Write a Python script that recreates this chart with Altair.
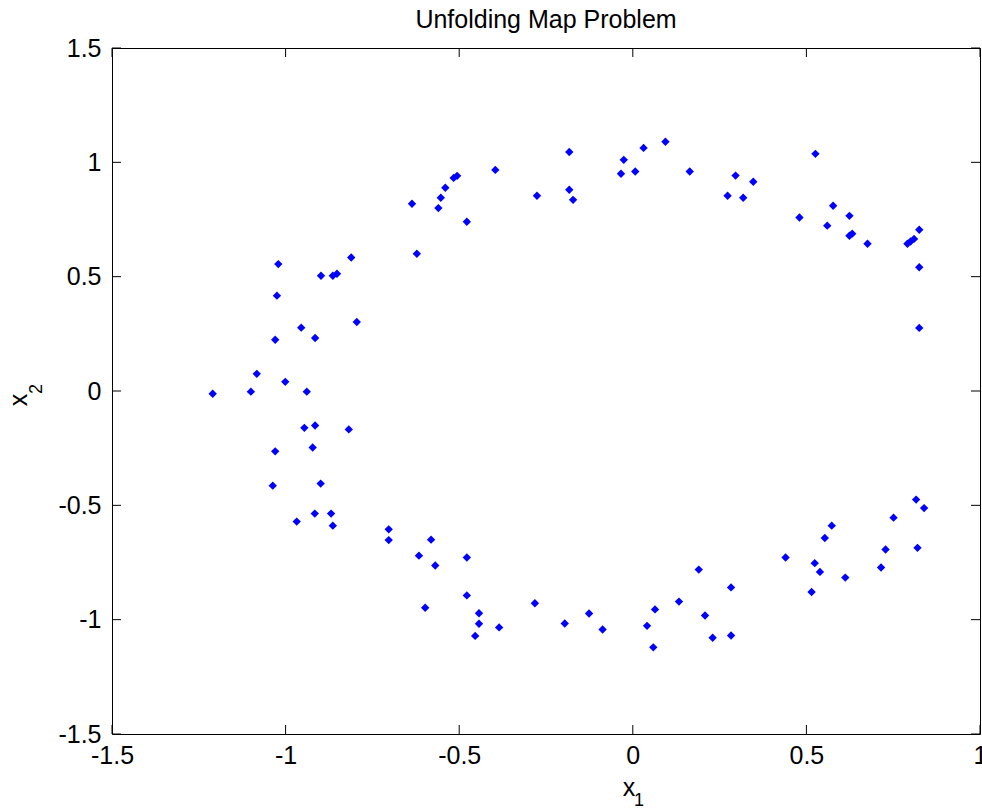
import altair as alt
import pandas as pd

# ---- data ----
x1 = [
    -0.636, -0.560, -0.553, -0.540, -0.516, -0.506, -0.478, -0.622, -0.811, -1.021,
    -0.898, -0.864, -0.852, -1.025, -0.795, -0.955, -1.030, -0.915, -1.083, -1.001,
    -1.210, -1.100, -0.939, -0.946, -0.915, -0.818, -1.030, -0.922, -1.037, -0.899,
    -0.968, -0.916, -0.869, -0.864, -0.703, -0.703, -0.581, -0.616, -0.569, -0.478,
    -0.478, -0.598, -0.443, -0.443, -0.454, -0.385, -0.282, -0.196, -0.126, -0.087,
    0.041, 0.064, 0.059, 0.133, 0.190, 0.283, 0.208, 0.230, 0.283, 0.440,
    0.524, 0.539, 0.515, 0.612, 0.553, 0.573, 0.715, 0.728, 0.751, 0.816,
    0.839, 0.820, -0.396, -0.276, -0.183, -0.183, -0.172, -0.034, -0.026, 0.007,
    0.031, 0.094, 0.164, 0.296, 0.347, 0.273, 0.318, 0.526, 0.480, 0.577,
    0.624, 0.560, 0.624, 0.632, 0.676, 0.791, 0.800, 0.810, 0.825, 0.825,
    0.825,
]
x2 = [
    0.819, 0.800, 0.845, 0.889, 0.932, 0.941, 0.740, 0.600, 0.584, 0.555,
    0.504, 0.504, 0.513, 0.417, 0.302, 0.277, 0.224, 0.232, 0.075, 0.040,
    -0.012, -0.003, -0.003, -0.161, -0.151, -0.168, -0.264, -0.247, -0.414, -0.405,
    -0.571, -0.536, -0.536, -0.589, -0.605, -0.652, -0.650, -0.720, -0.763, -0.728,
    -0.894, -0.948, -0.972, -1.018, -1.071, -1.034, -0.928, -1.017, -0.973, -1.043,
    -1.027, -0.955, -1.121, -0.921, -0.781, -0.859, -0.982, -1.079, -1.069, -0.728,
    -0.753, -0.791, -0.879, -0.816, -0.643, -0.589, -0.772, -0.693, -0.554, -0.475,
    -0.512, -0.686, 0.967, 0.854, 1.045, 0.880, 0.836, 0.950, 1.011, 0.960,
    1.063, 1.090, 0.960, 0.942, 0.915, 0.854, 0.845, 1.037, 0.759, 0.810,
    0.766, 0.723, 0.679, 0.688, 0.644, 0.644, 0.654, 0.665, 0.705, 0.541,
    0.276,
]
x_ticks = [-1.5, -1, -0.5, 0, 0.5, 1]
y_ticks = [-1.5, -1, -0.5, 0, 0.5, 1, 1.5]
title_text = "Unfolding Map Problem"
x_label = ["x", "1"]
y_label = ["x", "2"]

# ---- chart ----
W, H = 868, 686
FONT = "Liberation Sans"
FS = 25
TICK = 9

df = pd.DataFrame({"x1": x1, "x2": x2})
xs = alt.Scale(domain=[-1.5, 1], nice=False, zero=False)
ys = alt.Scale(domain=[-1.5, 1.5], nice=False, zero=False)

x_axis = alt.Axis(values=x_ticks, tickSize=0, domain=False, grid=False,
                  labelFont=FONT, labelFontSize=FS, labelColor="black",
                  labelPadding=9, title=None, labelFlush=False,
                  labelOverlap=False, labelExpr="toString(datum.value)")
y_axis = alt.Axis(values=y_ticks, tickSize=0, domain=False, grid=False,
                  labelFont=FONT, labelFontSize=FS, labelColor="black",
                  labelPadding=11, title=None, labelFlush=False,
                  labelOverlap=False, labelExpr="toString(datum.value)")

points = alt.Chart(df).mark_point(
    shape="diamond", filled=True, size=70, color="#0000ff", opacity=1
).encode(
    x=alt.X("x1:Q", scale=xs, axis=x_axis),
    y=alt.Y("x2:Q", scale=ys, axis=y_axis),
)

tx = pd.DataFrame({"t": x_ticks})
ty = pd.DataFrame({"t": y_ticks})
rule = dict(color="black", strokeWidth=1)
bottom_ticks = alt.Chart(tx).mark_rule(**rule).encode(
    x=alt.X("t:Q", scale=xs, axis=x_axis), y=alt.value(H), y2=alt.value(H - TICK))
top_ticks = alt.Chart(tx).mark_rule(**rule).encode(
    x=alt.X("t:Q", scale=xs, axis=x_axis), y=alt.value(0), y2=alt.value(TICK))
left_ticks = alt.Chart(ty).mark_rule(**rule).encode(
    y=alt.Y("t:Q", scale=ys, axis=y_axis), x=alt.value(0), x2=alt.value(TICK))
right_ticks = alt.Chart(ty).mark_rule(**rule).encode(
    y=alt.Y("t:Q", scale=ys, axis=y_axis), x=alt.value(W), x2=alt.value(W - TICK))


def txt(s, x, y, size, angle=0, align="center"):
    props = dict(font=FONT, fontSize=size, color="black", align=align,
                 baseline="alphabetic")
    if angle:
        props["angle"] = angle
    return alt.Chart(pd.DataFrame({"s": [s]})).mark_text(**props).encode(
        text="s:N", x=alt.value(x), y=alt.value(y))


title = txt(title_text, W / 2, -20, FS)
xl_main = txt(x_label[0], 517, 748, FS)
xl_sub = txt(x_label[1], 527, 758, 18)
yl_main = txt(y_label[0], -85, 352, FS, angle=270)
yl_sub = txt(y_label[1], -70, 341, 18, angle=270)

chart = alt.layer(
    points, bottom_ticks, top_ticks, left_ticks, right_ticks,
    title, xl_main, xl_sub, yl_main, yl_sub,
).properties(
    width=W, height=H,
    autosize=alt.AutoSizeParams(type="none"),
    padding={"left": 112, "top": 48, "right": 2, "bottom": 78},
    background="white",
).configure_view(
    stroke="black", strokeWidth=1
)

chart.save("out.html", embed_options={"renderer": "svg", "actions": False})
